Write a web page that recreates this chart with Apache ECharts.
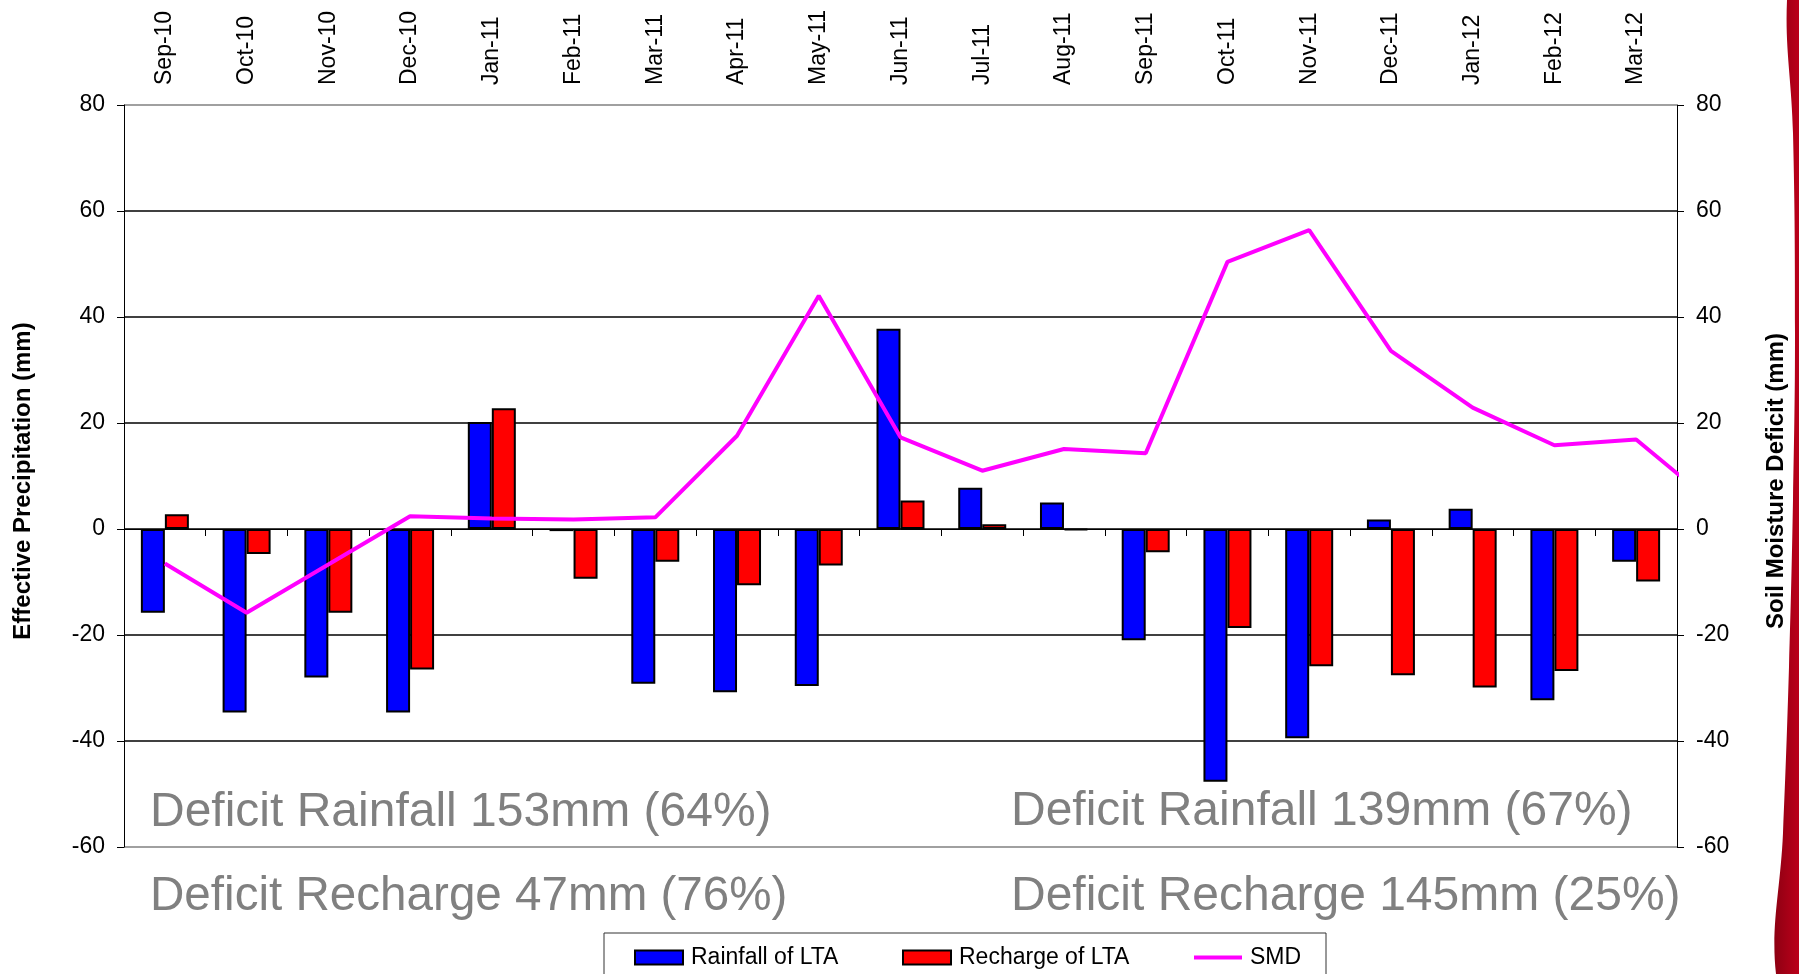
<!DOCTYPE html>
<html>
<head>
<meta charset="utf-8">
<title>Effective precipitation and SMD</title>
<script src="https://cdn.jsdelivr.net/npm/echarts@6/dist/echarts.min.js"></script>
<style>
  html, body { margin: 0; padding: 0; background: #fff; }
  #chart { width: 1799px; height: 974px; }
</style>
</head>
<body>
<div id="chart"></div>
<script>
const months = ['Sep-10', 'Oct-10', 'Nov-10', 'Dec-10', 'Jan-11', 'Feb-11', 'Mar-11', 'Apr-11', 'May-11', 'Jun-11',
  'Jul-11', 'Aug-11', 'Sep-11', 'Oct-11', 'Nov-11', 'Dec-11', 'Jan-12', 'Feb-12', 'Mar-12']
const rainfall = [-15.8, -34.6, -28.0, -34.6, 20.2, -0.4, -29.2, -30.8, -29.6, 37.8,
  7.8, 5.0, -21.0, -47.7, -39.5, 1.8, 3.8, -32.3, -6.2]
const recharge = [2.8, -4.7, -15.8, -26.5, 22.8, -9.4, -6.2, -10.6, -6.9, 5.4,
  0.9, -0.2, -4.4, -18.7, -25.9, -27.6, -29.9, -26.8, -9.9]
// last value (Apr-12) sits past the right axis, the line gets clipped there
const smd = [-6.5, -15.8, -6.7, 2.4, 2.0, 1.8, 2.2, 17.6, 44.0, 17.3,
  11.0, 15.1, 14.3, 50.4, 56.4, 33.6, 22.9, 15.8, 16.9, 4.1]
const yTicks = { min: -60, max: 80, interval: 20 }
const notes = [
  'Deficit Rainfall 153mm (64%)', 'Deficit Rainfall 139mm (67%)',
  'Deficit Recharge 47mm (76%)', 'Deficit Recharge 145mm (25%)'
]

const font = 'Liberation Sans, Arial, sans-serif'
const chart = echarts.init(document.getElementById('chart'))

const legendBase = {
  orient: 'horizontal',
  top: 946,
  padding: 0,
  itemWidth: 48,
  itemHeight: 14,
  textStyle: { fontFamily: font, fontSize: 23, color: '#000', padding: [0, 0, 0, 3] }
}

chart.setOption({
  animation: false,
  backgroundColor: '#fff',
  grid: { left: 124, right: 122, top: 105, bottom: 127 },
  xAxis: [
    {
      type: 'category',
      data: months,
      position: 'top',
      axisLine: { show: false, onZero: false },
      axisTick: { show: false },
      axisLabel: { rotate: -90, margin: 20, fontFamily: font, fontSize: 23, color: '#000' }
    },
    {
      type: 'category',
      data: months,
      position: 'bottom',
      axisLine: { onZero: true, onZeroAxisIndex: 0, lineStyle: { color: '#000', width: 1 } },
      axisTick: { show: true, length: 7, lineStyle: { color: '#000' } },
      axisLabel: { show: false }
    },
    {
      type: 'value',
      min: -0.5,
      max: 18.5,
      show: false,
      axisLine: { onZero: false }
    }
  ],
  yAxis: [
    {
      type: 'value',
      position: 'left',
      ...yTicks,
      axisLine: { show: true, onZero: false, lineStyle: { color: '#000' } },
      axisTick: { show: true, length: 7, lineStyle: { color: '#000' } },
      axisLabel: { margin: 19, fontFamily: font, fontSize: 23, color: '#000' },
      splitLine: {
        show: true,
        lineStyle: { color: ['#808080', '#000', '#000', '#000', '#000', '#000', '#000', '#808080'], width: 1.5 }
      }
    },
    {
      type: 'value',
      position: 'right',
      ...yTicks,
      axisLine: { show: true, onZero: false, lineStyle: { color: '#000' } },
      axisTick: { show: true, length: 7, lineStyle: { color: '#000' } },
      axisLabel: { margin: 19, fontFamily: font, fontSize: 23, color: '#000' },
      splitLine: { show: false }
    }
  ],
  legend: [
    { ...legendBase, left: 634, icon: 'rect', data: ['Rainfall of LTA'] },
    { ...legendBase, left: 902, icon: 'rect', data: ['Recharge of LTA'] },
    {
      ...legendBase,
      left: 1192,
      data: [{ name: 'SMD', itemStyle: { opacity: 0 }, lineStyle: { width: 4, color: '#ff00ff' } }]
    }
  ],
  series: [
    {
      name: 'Rainfall of LTA',
      type: 'bar',
      xAxisIndex: 1,
      yAxisIndex: 0,
      data: rainfall,
      barWidth: 24,
      barGap: '0%',
      itemStyle: { color: '#0000ff', borderColor: '#000', borderWidth: 2 }
    },
    {
      name: 'Recharge of LTA',
      type: 'bar',
      xAxisIndex: 1,
      yAxisIndex: 0,
      data: recharge,
      barWidth: 24,
      barGap: '0%',
      itemStyle: { color: '#ff0000', borderColor: '#000', borderWidth: 2 }
    },
    {
      name: 'SMD',
      type: 'line',
      xAxisIndex: 2,
      yAxisIndex: 1,
      data: smd.map((v, i) => [i, v]),
      symbol: 'none',
      clip: true,
      z: 5,
      lineStyle: { color: '#ff00ff', width: 4 },
      itemStyle: { color: '#ff00ff' }
    }
  ],
  graphic: [
    {
      type: 'polygon',
      z: -10,
      shape: {
        smooth: 0.4,
        points: [[1787, 0], [1799, 0], [1799, 974], [1776, 974], [1783, 833], [1789, 667],
          [1793, 500], [1795, 333], [1793, 133]]
      },
      style: {
        fill: new echarts.graphic.LinearGradient(0, 0, 1, 0, [
          { offset: 0, color: '#8e0012' },
          { offset: 1, color: '#c4001c' }
        ])
      }
    },
    {
      type: 'text', x: 23, y: 481, rotation: Math.PI / 2,
      style: { text: 'Effective Precipitation (mm)', fontFamily: font, fontSize: 24, fontWeight: 'bold', fill: '#000', align: 'center', verticalAlign: 'middle' }
    },
    {
      type: 'text', x: 1776, y: 481, rotation: Math.PI / 2,
      style: { text: 'Soil Moisture Deficit (mm)', fontFamily: font, fontSize: 24, fontWeight: 'bold', fill: '#000', align: 'center', verticalAlign: 'middle' }
    },
    {
      type: 'text', x: 150, y: 813,
      style: { text: notes[0], fontFamily: font, fontSize: 48, fill: '#808080', align: 'left', verticalAlign: 'middle' }
    },
    {
      type: 'text', x: 1011, y: 812,
      style: { text: notes[1], fontFamily: font, fontSize: 48, fill: '#808080', align: 'left', verticalAlign: 'middle' }
    },
    {
      type: 'text', x: 150, y: 897,
      style: { text: notes[2], fontFamily: font, fontSize: 47.6, fill: '#808080', align: 'left', verticalAlign: 'middle' }
    },
    {
      type: 'text', x: 1011, y: 897,
      style: { text: notes[3], fontFamily: font, fontSize: 48, fill: '#808080', align: 'left', verticalAlign: 'middle' }
    },
    {
      type: 'rect', z: -5,
      shape: { x: 604, y: 933, width: 722, height: 60 },
      style: { fill: '#fff', stroke: '#333', lineWidth: 1 }
    }
  ]
})
</script>
</body>
</html>
